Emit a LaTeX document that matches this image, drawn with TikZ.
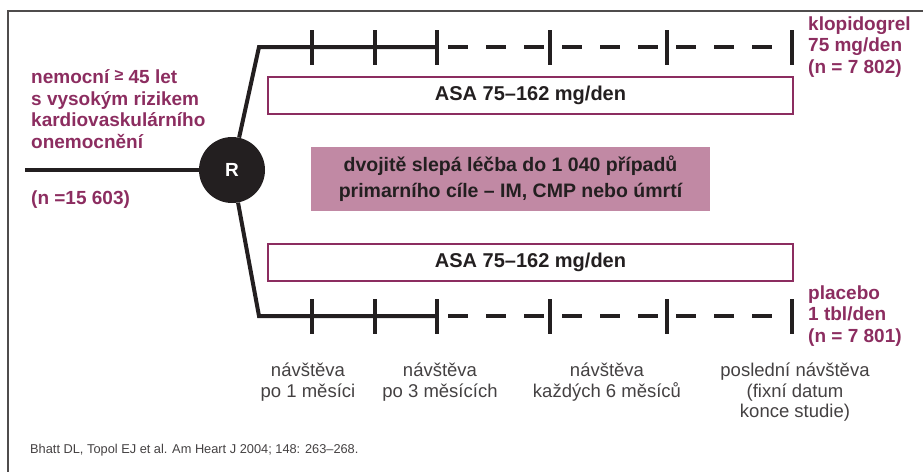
\documentclass[tikz,border=0pt]{standalone}
\usepackage{fontspec}
\setmainfont{Liberation Sans}
\usetikzlibrary{positioning, calc}
\definecolor{wine}{HTML}{8C2D60}
\definecolor{rose}{HTML}{C189A4}
\definecolor{ink}{HTML}{231F20}

\begin{document}
\begin{tikzpicture}[x=1pt, y=-1pt,
    every node/.style={inner sep=0pt, text=ink},
    arm/.style={line width=4pt, draw=ink, line join=miter},
    tick/.style={line width=4pt, draw=ink},
    later/.style={line width=4pt, draw=ink, dash pattern=on 20pt off 18pt, dash phase=27pt},
    asabox/.style={draw=wine, line width=2pt, minimum width=525pt, minimum height=37pt, font=\bfseries\fontsize{20}{21}\selectfont},
    redtext/.style={text=wine, font=\bfseries\fontsize{19}{21.5}\selectfont, align=left, anchor=west},
    visit/.style={font=\fontsize{18.5}{20.5}\selectfont, align=center, anchor=north, text=ink!85}]
    \useasboundingbox (0,0) rectangle (923,472);
    \draw[ink!80, line width=1.5pt] (923,11) -- (8,11) -- (8,472);

    \node[circle, fill=ink, minimum size=66pt, text=white, font=\bfseries\fontsize{19}{19}\selectfont] (R) at (232,170) {R};
    \coordinate (start) at (25,170);
    \coordinate (up) at (259,47);
    \coordinate (low) at (259,316);
    \foreach \n/\x in {1/312, 2/375, 3/437, 4/550, 5/667, 6/792} {
        \coordinate (u\n) at (\x,47);
        \coordinate (l\n) at (\x,316);
    }
    \draw[arm] (start) -- (R);
    \draw[arm] (R) -- (up) -- (u3);
    \draw[later] (u3) -- (u6);
    \draw[arm] (R) -- (low) -- (l3);
    \draw[later] (l3) -- (l6);
    \foreach \n in {1,...,6} {
        \draw[tick] ([yshift=-17.5pt]u\n) -- ([yshift=17.5pt]u\n);
        \draw[tick] ([yshift=-17.5pt]l\n) -- ([yshift=17.5pt]l\n);
    }

    \node[asabox] (asa1) at (530.5,95.5) {ASA 75--162 mg/den};
    \node[asabox] (asa2) at (530.5,262) {ASA 75--162 mg/den};
    \node[fill=rose, minimum width=399pt, minimum height=64pt, align=center, font=\bfseries\fontsize{19.5}{26}\selectfont] (blind) at (510.5,179) {dvojitě slepá léčba do 1 040 případů\\primarního cíle -- IM, CMP nebo úmrtí};

    \node[redtext] (who) at (31,109) {nemocní {\fontsize{16}{16}\selectfont\raisebox{3.5pt}{≥}} 45 let\\s vysokým rizikem\\kardiovaskulárního\\onemocnění};
    \node[redtext] (total) at (31,200) {(n =15 603)};
    \node[redtext, right=16pt of u6] (clopi) {klopidogrel\\75 mg/den\\(n = 7 802)};
    \node[redtext, right=16pt of l6] (placebo) {placebo\\1 tbl/den\\(n = 7 801)};

    \node[visit] (v1) at (308,363) {návštěva\\po 1 měsíci};
    \node[visit] (v2) at (440,363) {návštěva\\po 3 měsících};
    \node[visit] (v3) at (607,363) {návštěva\\každých 6 měsíců};
    \node[visit] (v4) at (795,363) {poslední návštěva\\(fixní datum\\konce studie)};

    \node[anchor=west, font=\fontsize{12.8}{14}\selectfont, text=ink!85] (cite) at (30,450) {Bhatt DL, Topol EJ et al. Am Heart J 2004; 148: 263--268.};
\end{tikzpicture}
\end{document}
